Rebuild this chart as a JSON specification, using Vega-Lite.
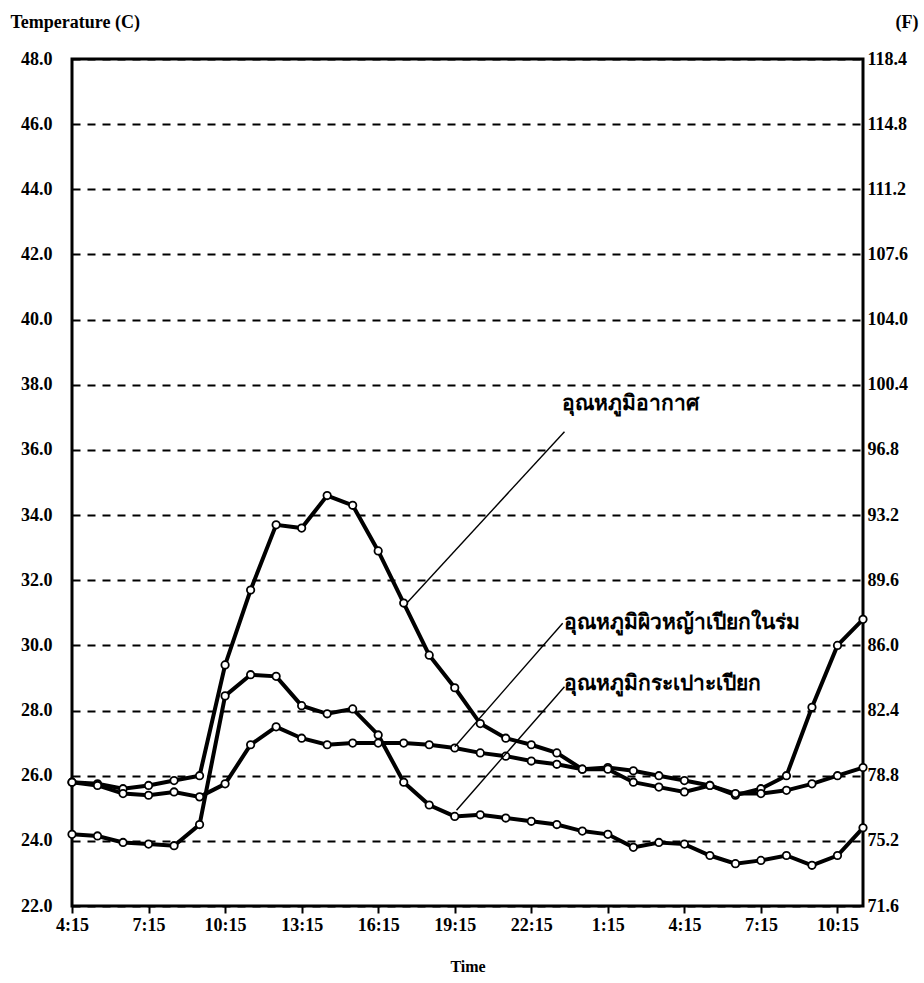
{
  "$schema": "https://vega.github.io/schema/vega-lite/v6.json",
  "width": 791,
  "height": 847,
  "autosize": {"type": "none"},
  "padding": {"left": 72, "top": 59, "right": 61, "bottom": 77},
  "background": "white",
  "config": {
    "view": {"stroke": "black", "strokeWidth": 3},
    "font": "Liberation Serif"
  },
  "datasets": {
    "temps": [
      {"h": 0, "temp": 25.8, "series": "อุณหภูมิอากาศ"},
      {"h": 1, "temp": 25.75, "series": "อุณหภูมิอากาศ"},
      {"h": 2, "temp": 25.6, "series": "อุณหภูมิอากาศ"},
      {"h": 3, "temp": 25.7, "series": "อุณหภูมิอากาศ"},
      {"h": 4, "temp": 25.85, "series": "อุณหภูมิอากาศ"},
      {"h": 5, "temp": 26.0, "series": "อุณหภูมิอากาศ"},
      {"h": 6, "temp": 29.4, "series": "อุณหภูมิอากาศ"},
      {"h": 7, "temp": 31.7, "series": "อุณหภูมิอากาศ"},
      {"h": 8, "temp": 33.7, "series": "อุณหภูมิอากาศ"},
      {"h": 9, "temp": 33.6, "series": "อุณหภูมิอากาศ"},
      {"h": 10, "temp": 34.6, "series": "อุณหภูมิอากาศ"},
      {"h": 11, "temp": 34.3, "series": "อุณหภูมิอากาศ"},
      {"h": 12, "temp": 32.9, "series": "อุณหภูมิอากาศ"},
      {"h": 13, "temp": 31.3, "series": "อุณหภูมิอากาศ"},
      {"h": 14, "temp": 29.7, "series": "อุณหภูมิอากาศ"},
      {"h": 15, "temp": 28.7, "series": "อุณหภูมิอากาศ"},
      {"h": 16, "temp": 27.6, "series": "อุณหภูมิอากาศ"},
      {"h": 17, "temp": 27.15, "series": "อุณหภูมิอากาศ"},
      {"h": 18, "temp": 26.95, "series": "อุณหภูมิอากาศ"},
      {"h": 19, "temp": 26.7, "series": "อุณหภูมิอากาศ"},
      {"h": 20, "temp": 26.2, "series": "อุณหภูมิอากาศ"},
      {"h": 21, "temp": 26.25, "series": "อุณหภูมิอากาศ"},
      {"h": 22, "temp": 26.15, "series": "อุณหภูมิอากาศ"},
      {"h": 23, "temp": 26.0, "series": "อุณหภูมิอากาศ"},
      {"h": 24, "temp": 25.85, "series": "อุณหภูมิอากาศ"},
      {"h": 25, "temp": 25.7, "series": "อุณหภูมิอากาศ"},
      {"h": 26, "temp": 25.4, "series": "อุณหภูมิอากาศ"},
      {"h": 27, "temp": 25.6, "series": "อุณหภูมิอากาศ"},
      {"h": 28, "temp": 26.0, "series": "อุณหภูมิอากาศ"},
      {"h": 29, "temp": 28.1, "series": "อุณหภูมิอากาศ"},
      {"h": 30, "temp": 30.0, "series": "อุณหภูมิอากาศ"},
      {"h": 31, "temp": 30.8, "series": "อุณหภูมิอากาศ"},
      {"h": 0, "temp": 25.8, "series": "อุณหภูมิผิวหญ้าเปียกในร่ม"},
      {"h": 1, "temp": 25.7, "series": "อุณหภูมิผิวหญ้าเปียกในร่ม"},
      {"h": 2, "temp": 25.45, "series": "อุณหภูมิผิวหญ้าเปียกในร่ม"},
      {"h": 3, "temp": 25.4, "series": "อุณหภูมิผิวหญ้าเปียกในร่ม"},
      {"h": 4, "temp": 25.5, "series": "อุณหภูมิผิวหญ้าเปียกในร่ม"},
      {"h": 5, "temp": 25.35, "series": "อุณหภูมิผิวหญ้าเปียกในร่ม"},
      {"h": 6, "temp": 25.75, "series": "อุณหภูมิผิวหญ้าเปียกในร่ม"},
      {"h": 7, "temp": 26.95, "series": "อุณหภูมิผิวหญ้าเปียกในร่ม"},
      {"h": 8, "temp": 27.5, "series": "อุณหภูมิผิวหญ้าเปียกในร่ม"},
      {"h": 9, "temp": 27.15, "series": "อุณหภูมิผิวหญ้าเปียกในร่ม"},
      {"h": 10, "temp": 26.95, "series": "อุณหภูมิผิวหญ้าเปียกในร่ม"},
      {"h": 11, "temp": 27.0, "series": "อุณหภูมิผิวหญ้าเปียกในร่ม"},
      {"h": 12, "temp": 27.0, "series": "อุณหภูมิผิวหญ้าเปียกในร่ม"},
      {"h": 13, "temp": 27.0, "series": "อุณหภูมิผิวหญ้าเปียกในร่ม"},
      {"h": 14, "temp": 26.95, "series": "อุณหภูมิผิวหญ้าเปียกในร่ม"},
      {"h": 15, "temp": 26.85, "series": "อุณหภูมิผิวหญ้าเปียกในร่ม"},
      {"h": 16, "temp": 26.7, "series": "อุณหภูมิผิวหญ้าเปียกในร่ม"},
      {"h": 17, "temp": 26.6, "series": "อุณหภูมิผิวหญ้าเปียกในร่ม"},
      {"h": 18, "temp": 26.45, "series": "อุณหภูมิผิวหญ้าเปียกในร่ม"},
      {"h": 19, "temp": 26.35, "series": "อุณหภูมิผิวหญ้าเปียกในร่ม"},
      {"h": 20, "temp": 26.2, "series": "อุณหภูมิผิวหญ้าเปียกในร่ม"},
      {"h": 21, "temp": 26.2, "series": "อุณหภูมิผิวหญ้าเปียกในร่ม"},
      {"h": 22, "temp": 25.8, "series": "อุณหภูมิผิวหญ้าเปียกในร่ม"},
      {"h": 23, "temp": 25.65, "series": "อุณหภูมิผิวหญ้าเปียกในร่ม"},
      {"h": 24, "temp": 25.5, "series": "อุณหภูมิผิวหญ้าเปียกในร่ม"},
      {"h": 25, "temp": 25.7, "series": "อุณหภูมิผิวหญ้าเปียกในร่ม"},
      {"h": 26, "temp": 25.45, "series": "อุณหภูมิผิวหญ้าเปียกในร่ม"},
      {"h": 27, "temp": 25.45, "series": "อุณหภูมิผิวหญ้าเปียกในร่ม"},
      {"h": 28, "temp": 25.55, "series": "อุณหภูมิผิวหญ้าเปียกในร่ม"},
      {"h": 29, "temp": 25.75, "series": "อุณหภูมิผิวหญ้าเปียกในร่ม"},
      {"h": 30, "temp": 26.0, "series": "อุณหภูมิผิวหญ้าเปียกในร่ม"},
      {"h": 31, "temp": 26.25, "series": "อุณหภูมิผิวหญ้าเปียกในร่ม"},
      {"h": 0, "temp": 24.2, "series": "อุณหภูมิกระเปาะเปียก"},
      {"h": 1, "temp": 24.15, "series": "อุณหภูมิกระเปาะเปียก"},
      {"h": 2, "temp": 23.95, "series": "อุณหภูมิกระเปาะเปียก"},
      {"h": 3, "temp": 23.9, "series": "อุณหภูมิกระเปาะเปียก"},
      {"h": 4, "temp": 23.85, "series": "อุณหภูมิกระเปาะเปียก"},
      {"h": 5, "temp": 24.5, "series": "อุณหภูมิกระเปาะเปียก"},
      {"h": 6, "temp": 28.45, "series": "อุณหภูมิกระเปาะเปียก"},
      {"h": 7, "temp": 29.1, "series": "อุณหภูมิกระเปาะเปียก"},
      {"h": 8, "temp": 29.05, "series": "อุณหภูมิกระเปาะเปียก"},
      {"h": 9, "temp": 28.15, "series": "อุณหภูมิกระเปาะเปียก"},
      {"h": 10, "temp": 27.9, "series": "อุณหภูมิกระเปาะเปียก"},
      {"h": 11, "temp": 28.05, "series": "อุณหภูมิกระเปาะเปียก"},
      {"h": 12, "temp": 27.25, "series": "อุณหภูมิกระเปาะเปียก"},
      {"h": 13, "temp": 25.8, "series": "อุณหภูมิกระเปาะเปียก"},
      {"h": 14, "temp": 25.1, "series": "อุณหภูมิกระเปาะเปียก"},
      {"h": 15, "temp": 24.75, "series": "อุณหภูมิกระเปาะเปียก"},
      {"h": 16, "temp": 24.8, "series": "อุณหภูมิกระเปาะเปียก"},
      {"h": 17, "temp": 24.7, "series": "อุณหภูมิกระเปาะเปียก"},
      {"h": 18, "temp": 24.6, "series": "อุณหภูมิกระเปาะเปียก"},
      {"h": 19, "temp": 24.5, "series": "อุณหภูมิกระเปาะเปียก"},
      {"h": 20, "temp": 24.3, "series": "อุณหภูมิกระเปาะเปียก"},
      {"h": 21, "temp": 24.2, "series": "อุณหภูมิกระเปาะเปียก"},
      {"h": 22, "temp": 23.8, "series": "อุณหภูมิกระเปาะเปียก"},
      {"h": 23, "temp": 23.95, "series": "อุณหภูมิกระเปาะเปียก"},
      {"h": 24, "temp": 23.9, "series": "อุณหภูมิกระเปาะเปียก"},
      {"h": 25, "temp": 23.55, "series": "อุณหภูมิกระเปาะเปียก"},
      {"h": 26, "temp": 23.3, "series": "อุณหภูมิกระเปาะเปียก"},
      {"h": 27, "temp": 23.4, "series": "อุณหภูมิกระเปาะเปียก"},
      {"h": 28, "temp": 23.55, "series": "อุณหภูมิกระเปาะเปียก"},
      {"h": 29, "temp": 23.25, "series": "อุณหภูมิกระเปาะเปียก"},
      {"h": 30, "temp": 23.55, "series": "อุณหภูมิกระเปาะเปียก"},
      {"h": 31, "temp": 24.4, "series": "อุณหภูมิกระเปาะเปียก"}
    ],
    "pointers": [
      {"label": "อุณหภูมิอากาศ", "h": 19.3, "temp": 36.56, "h2": 13.16, "temp2": 31.33},
      {"label": "อุณหภูมิผิวหญ้าเปียกในร่ม", "h": 19.23, "temp": 30.68, "h2": 15.0, "temp2": 26.89},
      {"label": "อุณหภูมิกระเปาะเปียก", "h": 19.3, "temp": 28.73, "h2": 15.07, "temp2": 24.94}
    ],
    "labels": [
      {"label": "อุณหภูมิอากาศ", "h": 19.22, "temp": 37.4},
      {"label": "อุณหภูมิผิวหญ้าเปียกในร่ม", "h": 19.3, "temp": 30.7},
      {"label": "อุณหภูมิกระเปาะเปียก", "h": 19.3, "temp": 28.8}
    ]
  },
  "layer": [
    {
      "data": {"name": "temps"},
      "mark": {"type": "line", "color": "black", "strokeWidth": 4},
      "encoding": {
        "x": {
          "field": "h", "type": "quantitative",
          "scale": {"domain": [0, 31], "nice": false, "zero": false},
          "axis": {
            "values": [0, 3, 6, 9, 12, 15, 18, 21, 24, 27, 30],
            "labelExpr": "((4 + datum.value) % 24) + ':15'",
            "title": "Time",
            "titleFont": "Liberation Serif", "titleFontSize": 16, "titleFontWeight": "bold", "titleColor": "black",
            "titlePadding": 24,
            "labelFont": "Liberation Serif", "labelFontSize": 18, "labelFontWeight": "bold", "labelColor": "black",
            "labelPadding": 3,
            "domain": false, "grid": false,
            "ticks": true, "tickSize": 7, "tickWidth": 2, "tickColor": "black",
            "labelFlush": false
          }
        },
        "y": {
          "field": "temp", "type": "quantitative",
          "scale": {"domain": [22, 48], "nice": false, "zero": false},
          "axis": {
            "orient": "left",
            "values": [22, 24, 26, 28, 30, 32, 34, 36, 38, 40, 42, 44, 46, 48],
            "format": ".1f",
            "labelFont": "Liberation Serif", "labelFontSize": 18, "labelFontWeight": "bold", "labelColor": "black",
            "labelPadding": 20,
            "ticks": false, "domain": false,
            "grid": true, "gridColor": "black", "gridWidth": 2, "gridDash": [8, 7], "gridOpacity": 1,
            "title": "Temperature (C)",
            "titleAngle": 0, "titleAlign": "left", "titleBaseline": "middle",
            "titleX": -62, "titleY": -37,
            "titleFont": "Liberation Serif", "titleFontSize": 18, "titleFontWeight": "bold", "titleColor": "black"
          }
        },
        "detail": {"field": "series", "type": "nominal"}
      }
    },
    {
      "data": {"name": "temps"},
      "mark": {"type": "point", "filled": true, "fill": "white", "stroke": "black", "strokeWidth": 1.8, "size": 55, "opacity": 1},
      "encoding": {
        "x": {"field": "h", "type": "quantitative", "axis": null},
        "y": {
          "field": "temp", "type": "quantitative",
          "axis": {
            "orient": "right",
            "values": [22, 24, 26, 28, 30, 32, 34, 36, 38, 40, 42, 44, 46, 48],
            "labelExpr": "format(datum.value * 1.8 + 32, '.1f')",
            "labelFont": "Liberation Serif", "labelFontSize": 18, "labelFontWeight": "bold", "labelColor": "black",
            "labelPadding": 4,
            "ticks": false, "domain": false, "grid": false,
            "title": "(F)",
            "titleAngle": 0, "titleAlign": "left", "titleBaseline": "middle",
            "titleX": 32, "titleY": -37,
            "titleFont": "Liberation Serif", "titleFontSize": 18, "titleFontWeight": "bold", "titleColor": "black"
          }
        }
      }
    },
    {
      "data": {"name": "pointers"},
      "mark": {"type": "rule", "color": "black", "strokeWidth": 1.4},
      "encoding": {
        "x": {"field": "h", "type": "quantitative", "axis": null},
        "y": {"field": "temp", "type": "quantitative", "axis": null},
        "x2": {"field": "h2"},
        "y2": {"field": "temp2"}
      }
    },
    {
      "data": {"name": "labels"},
      "mark": {"type": "text", "align": "left", "baseline": "middle", "fontSize": 21, "fontWeight": "bold", "color": "black", "font": "Noto Sans"},
      "encoding": {
        "x": {"field": "h", "type": "quantitative", "axis": null},
        "y": {"field": "temp", "type": "quantitative", "axis": null},
        "text": {"field": "label"}
      }
    }
  ],
  "resolve": {"axis": {"y": "independent", "x": "independent"}}
}
